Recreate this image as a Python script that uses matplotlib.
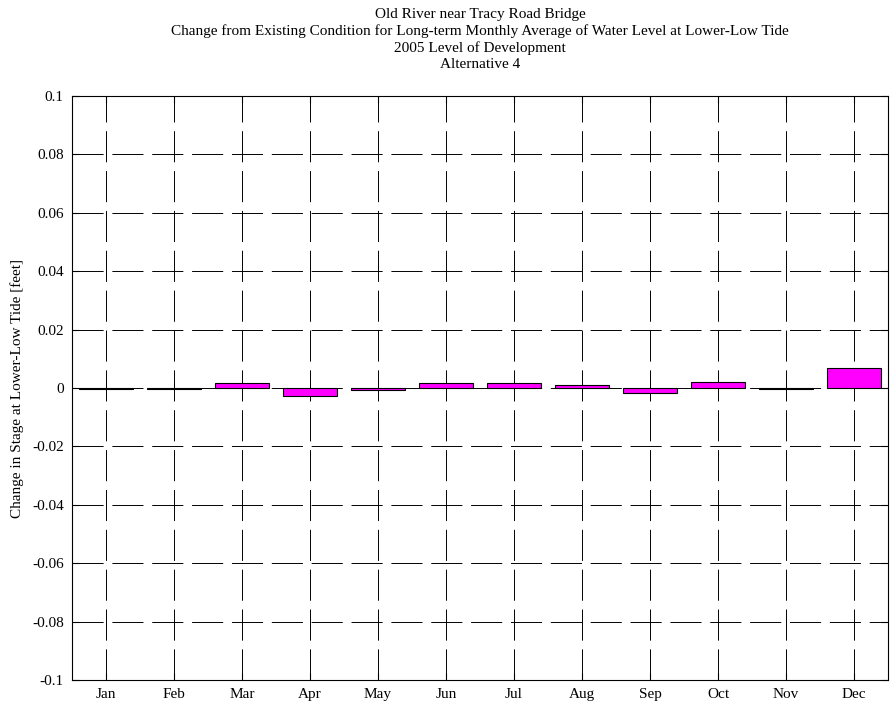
import matplotlib
matplotlib.use("Agg")
import matplotlib.pyplot as plt
import numpy as np

months = ["Jan", "Feb", "Mar", "Apr", "May", "Jun", "Jul", "Aug", "Sep", "Oct", "Nov", "Dec"]
change = [-0.0002, -0.0002, 0.0018, -0.0027, -0.0007, 0.0016, 0.0016, 0.0010, -0.0016, 0.0022, -0.0002, 0.0068]
yticks = [-0.1, -0.08, -0.06, -0.04, -0.02, 0, 0.02, 0.04, 0.06, 0.08, 0.1]
ytick_labels = ["-0.1", "-0.08", "-0.06", "-0.04", "-0.02", "0", "0.02", "0.04", "0.06", "0.08", "0.1"]
title_lines = ["Old River near Tracy Road Bridge",
               "Change from Existing Condition for Long-term Monthly Average of Water Level at Lower-Low Tide",
               "2005 Level of Development",
               "Alternative 4"]
ylabel = "Change in Stage at Lower-Low Tide [feet]"

plt.rcParams['font.family'] = ['Liberation Serif', 'DejaVu Serif']

fig = plt.figure(figsize=(8.95, 7.13), dpi=100)
ax = fig.add_axes([72/895, 1-680/713, (888-72)/895, (680-96)/713])

x = np.arange(1, len(months)+1)
ax.bar(x, change, width=0.8, color="#FF00FF", edgecolor="black", linewidth=0.8, zorder=3)

ax.set_xlim(0.5, 12.5)
ax.set_ylim(-0.1, 0.1)
ax.set_xticks(x)
ax.set_xticklabels(months, fontsize=11)
ax.set_yticks(yticks)
ax.set_yticklabels(ytick_labels, fontsize=11)
ax.tick_params(direction="in", length=5, width=0.8, top=True, right=True, pad=6)
ax.grid(True, color="black", linestyle=(0, (32, 9)), linewidth=0.7, zorder=1)
ax.set_axisbelow(True)
for s in ax.spines.values():
    s.set_linewidth(0.8)

ax.set_ylabel(ylabel, fontsize=11, labelpad=6)
ax.set_title("\n".join(title_lines), fontsize=11, linespacing=1.3, pad=20)

fig.savefig("out.png", dpi=100)
